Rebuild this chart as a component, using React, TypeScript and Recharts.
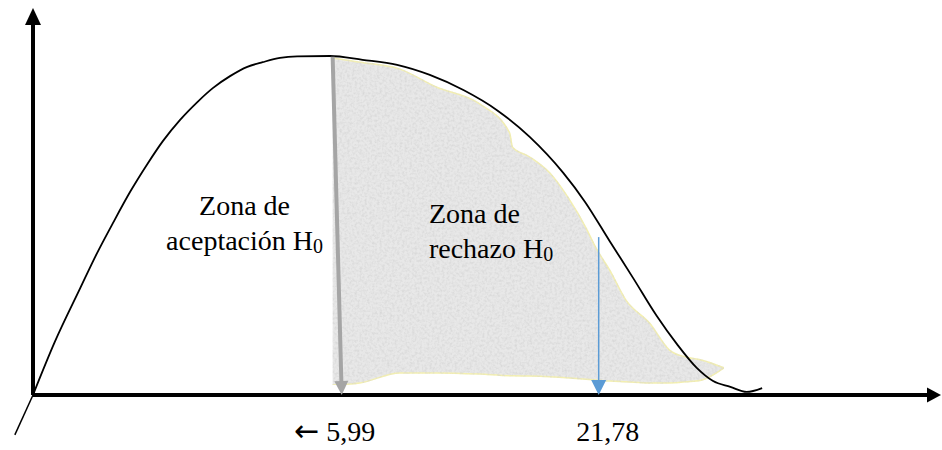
import React from "react";
import {
  ComposedChart,
  Line,
  Area,
  XAxis,
  YAxis,
  ReferenceLine,
  ReferenceDot,
} from "recharts";

// density curve (abstract units: x 0-100, y 0-100)
const curveX = [0, 2.4, 5.2, 7.0, 8.8, 10.7, 12.6, 14.3, 16.2, 18.1, 19.8, 21.7, 23.6, 25.3, 27.2, 29.1, 32.7, 36.3, 40.1, 43.7, 47.4, 51.1, 54.7, 58.4, 60.8, 63.5, 66.1, 68.7, 70.9, 73.1, 74.9, 76.8, 78.6, 80.3];
const curveY = [0, 13.7, 27.6, 36.4, 44.4, 52.5, 59.7, 65.6, 71.1, 75.7, 79.3, 82.4, 84.8, 86.0, 87.1, 87.5, 87.6, 86.6, 85.3, 82.7, 78.8, 73.6, 66.7, 57.4, 49.9, 39.8, 30.2, 20.4, 13.2, 7.0, 3.6, 2.1, 0.8, 1.8];

// shaded rejection zone (lower / upper edge)
const shadeX = [33.0, 36.0, 40.4, 44.4, 49.2, 52.5, 52.8, 54.7, 56.9, 59.1, 60.9, 62.0, 63.5, 65.3, 67.9, 70.1, 71.9, 73.7, 76.1];
const shadeLow = [2.6, 3.1, 5.7, 5.7, 5.4, 5.0, 5.0, 4.9, 4.7, 4.4, 4.1, 3.9, 3.6, 3.4, 3.1, 3.1, 3.4, 3.9, 7.0];
const shadeHigh = [87.1, 86.0, 84.2, 79.6, 75.2, 67.7, 64.1, 61.5, 57.4, 50.4, 43.2, 38.0, 32.3, 24.5, 18.6, 11.6, 9.8, 9.0, 7.0];

// critical values
const tickValues = [34.0, 62.3];
const tickLabels = ["\u2190 5,99", "21,78"];
const grayArrowTop = { x: 33.0, y: 87.4 };
const blueArrowTop = { x: 62.3, y: 40.8 };

const curveData = curveX.map((x, i) => ({ x, y: curveY[i] }));
const shadeData = shadeX.map((x, i) => ({ x, range: [shadeLow[i], shadeHigh[i]] }));

const SERIF = '"Liberation Serif", "Times New Roman", Times, serif';
const textStyle = { fontFamily: SERIF, fontSize: 28, fill: "#000" };

function arrowShape(color: string, width: number, head: number, headW: number) {
  return (props: any) => {
    const { x1, y1, x2, y2 } = props;
    const dx = x2 - x1;
    const dy = y2 - y1;
    const len = Math.hypot(dx, dy) || 1;
    const ux = dx / len;
    const uy = dy / len;
    const bx = x2 - ux * head;
    const by = y2 - uy * head;
    const px = (-uy * headW) / 2;
    const py = (ux * headW) / 2;
    return (
      <g>
        <line x1={x1} y1={y1} x2={bx + ux} y2={by + uy} stroke={color} strokeWidth={width} />
        <polygon points={`${x2},${y2} ${bx + px},${by + py} ${bx - px},${by - py}`} fill={color} />
      </g>
    );
  };
}

function plainLine(color: string, width: number) {
  return (props: any) => (
    <line x1={props.x1} y1={props.y1} x2={props.x2} y2={props.y2} stroke={color} strokeWidth={width} />
  );
}

function zoneText(lines: string[], anchor: "start" | "middle") {
  return (props: any) => {
    const { cx, cy } = props;
    return (
      <g>
        <text x={cx} y={cy} textAnchor={anchor} style={textStyle}>
          {lines[0]}
        </text>
        <text x={cx} y={cy + 35} textAnchor={anchor} style={textStyle}>
          {lines[1]}
          <tspan dy={3} style={{ fontSize: 20 }}>
            0
          </tspan>
        </text>
      </g>
    );
  };
}

const tickShift = [-7, 9];

function CriticalTick(props: any) {
  const { x, y, payload } = props;
  const i = tickValues.indexOf(payload.value);
  const label = tickLabels[i] ?? "";
  const hasArrow = label.startsWith("\u2190");
  return (
    <text x={x + (tickShift[i] ?? 0)} y={y + 46} textAnchor="middle" style={textStyle}>
      {hasArrow && (
        <tspan style={{ fontFamily: '"DejaVu Sans", sans-serif', fontSize: 30 }}>{"\u2190"}</tspan>
      )}
      {hasArrow ? label.slice(1) : label}
    </text>
  );
}

export default function App() {
  return (
    <div style={{ position: "absolute", left: 0, top: 0, width: 942, height: 450, background: "#fff" }}>
      <svg width={0} height={0} style={{ position: "absolute" }}>
        <defs>
          <filter id="speckle" x="0" y="0" width="100%" height="100%">
            <feTurbulence type="fractalNoise" baseFrequency="0.4" numOctaves="2" seed="4" result="noise" />
            <feColorMatrix
              in="noise"
              type="matrix"
              values="0 0 0 0 0.62  0 0 0 0 0.62  0 0 0 0 0.62  0 0 0 1.3 -0.5"
              result="dots"
            />
            <feComposite in="dots" in2="SourceGraphic" operator="in" result="clipped" />
            <feMerge>
              <feMergeNode in="SourceGraphic" />
              <feMergeNode in="clipped" />
            </feMerge>
          </filter>
        </defs>
      </svg>
      <ComposedChart width={942} height={450} margin={{ top: 8, right: 1, bottom: 0, left: 33 }}>
        <XAxis
          type="number"
          dataKey="x"
          domain={[0, 100]}
          ticks={tickValues}
          interval={0}
          axisLine={false}
          tickLine={false}
          tickSize={0}
          tickMargin={0}
          height={55}
          tick={<CriticalTick />}
        />
        <YAxis type="number" domain={[0, 100]} hide />

        <Area
          data={shadeData}
          dataKey="range"
          type="monotone"
          fill="#e8e8e8"
          fillOpacity={1}
          stroke="#f4f0b0"
          strokeWidth={1.5}
          filter="url(#speckle)"
          isAnimationActive={false}
          activeDot={false}
        />
        <Line
          data={curveData}
          dataKey="y"
          type="monotone"
          stroke="#000"
          strokeWidth={1.8}
          dot={false}
          activeDot={false}
          isAnimationActive={false}
        />

        {/* axes */}
        <ReferenceLine
          segment={[{ x: 0, y: 0 }, { x: 0, y: 100 }]}
          ifOverflow="visible"
          shape={arrowShape("#000", 4, 17, 16)}
        />
        <ReferenceLine
          segment={[{ x: 0, y: 0 }, { x: 100, y: 0 }]}
          ifOverflow="visible"
          shape={arrowShape("#000", 4, 14, 15)}
        />
        <ReferenceLine
          segment={[{ x: 0, y: 0 }, { x: -2.0, y: -10.3 }]}
          ifOverflow="visible"
          shape={plainLine("#000", 1.5)}
        />

        {/* critical value arrows */}
        <ReferenceLine
          segment={[grayArrowTop, { x: tickValues[0], y: 0 }]}
          ifOverflow="visible"
          shape={arrowShape("#a5a5a5", 4, 14, 14)}
        />
        <ReferenceLine
          segment={[blueArrowTop, { x: tickValues[1], y: 0 }]}
          ifOverflow="visible"
          shape={arrowShape("#5b9bd5", 1.5, 15, 15)}
        />

        <ReferenceDot
          x={23.3}
          y={46.6}
          ifOverflow="visible"
          shape={zoneText(["Zona de", "aceptación H"], "middle")}
        />
        <ReferenceDot
          x={43.6}
          y={44.4}
          ifOverflow="visible"
          shape={zoneText(["Zona de", "rechazo H"], "start")}
        />
      </ComposedChart>
    </div>
  );
}
